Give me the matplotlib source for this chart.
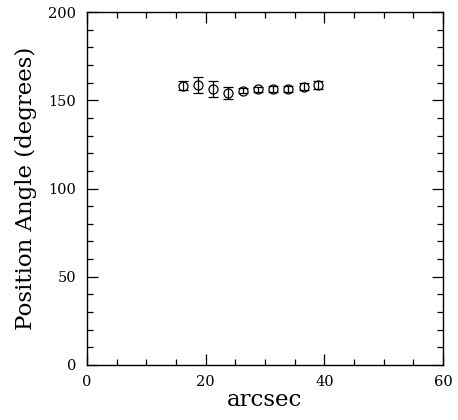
import matplotlib
matplotlib.use('Agg')
from matplotlib import pyplot as plt
from matplotlib.ticker import MultipleLocator

# data
arcsec = [16.2, 18.7, 21.2, 23.8, 26.3, 28.8, 31.4, 33.9, 36.5, 39.0]
pa = [158.2, 158.4, 156.6, 154.0, 155.4, 156.2, 156.4, 156.4, 157.7, 158.6]
pa_err = [2.6, 4.5, 4.5, 3.4, 1.5, 1.5, 1.5, 1.5, 2.0, 2.4]

plt.rcParams['font.family'] = 'DejaVu Serif'

fig = plt.figure(figsize=(4.58, 4.2), dpi=100)
ax = fig.add_axes([87/458, 55/420, 356/458, 353/420])

ax.errorbar(arcsec, pa, yerr=pa_err, fmt='o', mfc='none', mec='black',
            ecolor='black', ms=6.5, mew=0.9, elinewidth=0.9, capsize=3.5,
            capthick=0.9, color='black')

ax.set_xlim(0, 60)
ax.set_ylim(0, 200)
ax.xaxis.set_major_locator(MultipleLocator(20))
ax.xaxis.set_minor_locator(MultipleLocator(5))
ax.yaxis.set_major_locator(MultipleLocator(50))
ax.yaxis.set_minor_locator(MultipleLocator(10))
ax.tick_params(which='both', direction='in', top=True, right=True,
               labelsize=10.5, width=0.9)
ax.tick_params(which='major', length=8)
ax.tick_params(which='minor', length=4)
ax.tick_params(axis='x', pad=7)
ax.tick_params(axis='y', pad=8)
for s in ax.spines.values():
    s.set_linewidth(1.0)

ax.set_xlabel('arcsec', fontsize=16.5, labelpad=0)
ax.set_ylabel('Position Angle (degrees)', fontsize=16.5, labelpad=8)

plt.savefig('out.png', dpi=100)
